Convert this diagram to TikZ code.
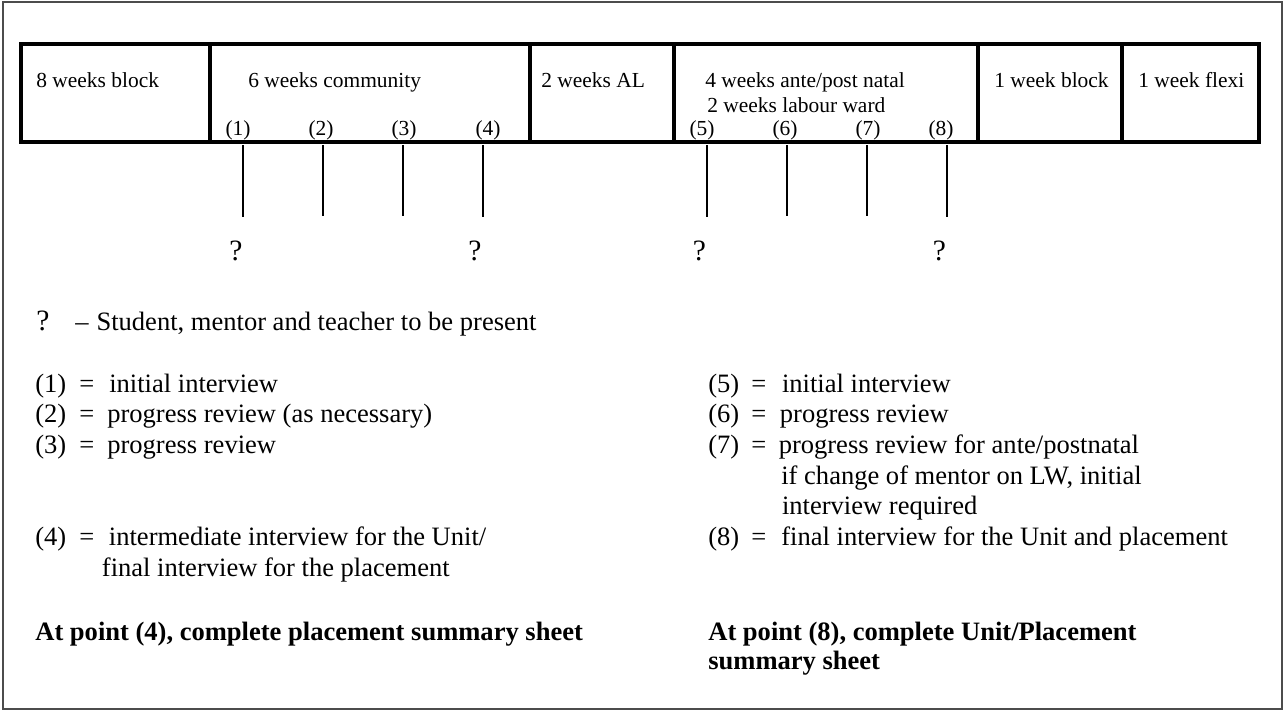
\documentclass[tikz,border=0pt]{standalone}
\usepackage{fontspec}
\setmainfont{Liberation Serif}
\tikzstyle{every node}=[inner sep=0pt]
\tikzstyle{frame}=[draw=black!70, line width=0.9pt]
\tikzstyle{tbl}=[line width=1.9pt]
\tikzstyle{tick}=[line width=1pt]
\tikzstyle{cell}=[anchor=base west, font=\fontsize{12.2}{14}\selectfont]
\tikzstyle{num}=[anchor=base, font=\fontsize{12.2}{14}\selectfont]
\tikzstyle{qmark}=[anchor=base, font=\fontsize{16.8}{20}\selectfont]
\tikzstyle{leg}=[anchor=base west, font=\fontsize{15.1}{18}\selectfont]
\tikzstyle{note}=[anchor=base west, font=\fontsize{15.1}{18}\selectfont\bfseries]

\begin{document}
\begin{tikzpicture}[x=0.2mm,y=-0.2mm]
  \useasboundingbox (0,0) rectangle (1284,711);
  \draw[frame] (3,2) rectangle (1282,709);
  % placement table
  \draw[tbl] (21,44) rectangle (1259,142);
  \draw[tbl] (210,44) -- (210,142);
  \draw[tbl] (530,44) -- (530,142);
  \draw[tbl] (674,44) -- (674,142);
  \draw[tbl] (978,44) -- (978,142);
  \draw[tbl] (1122,44) -- (1122,142);
  \node[cell] (block8) at (36,87) {8 weeks block};
  \node[cell] (community) at (248,87) {6 weeks community};
  \node[cell] (al) at (541,87) {2 weeks AL};
  \node[cell] (natal) at (705,87) {4 weeks ante/post natal};
  \node[cell] (labour) at (707,112) {2 weeks labour ward};
  \node[cell] (block1) at (994,87) {1 week block};
  \node[cell] (flexi) at (1138,87) {1 week flexi};
  % review points
  \node[num] (p1) at (238,135) {(1)};
  \node[num] (p2) at (321,135) {(2)};
  \node[num] (p3) at (404,135) {(3)};
  \node[num] (p4) at (488,135) {(4)};
  \node[num] (p5) at (702,135) {(5)};
  \node[num] (p6) at (785,135) {(6)};
  \node[num] (p7) at (868,135) {(7)};
  \node[num] (p8) at (941,135) {(8)};
  \foreach \i/\x/\y in {1/243/217, 2/323/216, 3/403/216, 4/483/217,
                        5/707/217, 6/787/216, 7/867/216, 8/947/217} {
    \coordinate (t\i) at (\x,145);
    \coordinate (b\i) at (\x,\y);
    \draw[tick] (t\i) -- (b\i);
  }
  \node[qmark] (q1) at (236,260) {?};
  \node[qmark] (q4) at (475,260) {?};
  \node[qmark] (q5) at (699.5,260) {?};
  \node[qmark] (q8) at (939.5,260) {?};
  % key
  \node[qmark, anchor=base west] (qkey) at (36,330) {?};
  \node[leg] (qtext) at (75,330) {--\hspace{0.3em}Student, mentor and teacher to be present};
  \node[leg] (k1) at (35,392) {(1)};
  \node[leg] (e1) at (79,392) {=};
  \node[leg] (d1) at (109,392) {initial interview};
  \node[leg] (k2) at (35,422) {(2)};
  \node[leg] (e2) at (79,422) {=};
  \node[leg] (d2) at (107,422) {progress review (as necessary)};
  \node[leg] (k3) at (35,453.5) {(3)};
  \node[leg] (e3) at (79,453.5) {=};
  \node[leg] (d3) at (107,453.5) {progress review};
  \node[leg] (k4) at (35,545) {(4)};
  \node[leg] (e4) at (79,545) {=};
  \node[leg] (d4) at (108.6,545) {intermediate interview for the Unit/};
  \node[leg] (d4b) at (101.6,576) {final interview for the placement};
  \node[leg] (k5) at (708,392) {(5)};
  \node[leg] (e5) at (751,392) {=};
  \node[leg] (d5) at (781.7,392) {initial interview};
  \node[leg] (k6) at (708,422) {(6)};
  \node[leg] (e6) at (751,422) {=};
  \node[leg] (d6) at (779.6,422) {progress review};
  \node[leg] (k7) at (708,453.5) {(7)};
  \node[leg] (e7) at (751,453.5) {=};
  \node[leg] (d7) at (778.4,453.5) {progress review for ante/postnatal};
  \node[leg] (d7b) at (781,484) {if change of mentor on LW, initial};
  \node[leg] (d7c) at (781.7,514) {interview required};
  \node[leg] (k8) at (708,545) {(8)};
  \node[leg] (e8) at (751,545) {=};
  \node[leg] (d8) at (781,545) {final interview for the Unit and placement};
  % summary sheets
  \node[note] (sum4) at (35,640) {At point (4), complete placement summary sheet};
  \node[note] (sum8) at (708,640) {At point (8), complete Unit/Placement};
  \node[note] (sum8b) at (708,669) {summary sheet};
\end{tikzpicture}
\end{document}
